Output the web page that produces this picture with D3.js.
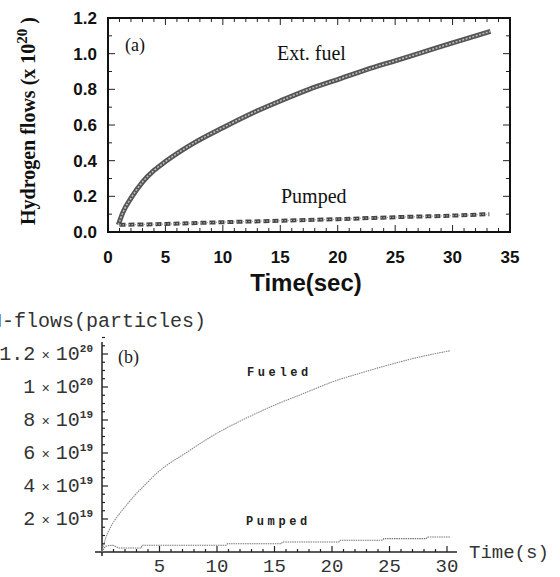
<!DOCTYPE html>
<html>
<head>
<meta charset="utf-8">
<script src="https://cdn.jsdelivr.net/npm/d3@7"></script>
<style>
  body { margin: 0; background: #fff; }
  svg { display: block; }
</style>
</head>
<body>
<div id="chart"></div>
<script>
// panel (a) data
var timeA = [0.9, 1.3, 2, 3, 4, 5, 7.5, 10, 12.5, 15, 17.5, 20, 22.5, 25, 27.5, 30, 33.3];
var extFuel = [0.04, 0.11, 0.19, 0.28, 0.345, 0.395, 0.5, 0.585, 0.665, 0.735, 0.8, 0.855, 0.91, 0.96, 1.01, 1.06, 1.125];
var timePumpedA = [1, 5, 10, 15, 20, 25, 30, 33.2];
var pumpedA = [0.04, 0.045, 0.055, 0.063, 0.072, 0.083, 0.092, 0.1];
var xTicksA = [0, 5, 10, 15, 20, 25, 30, 35];
var yTicksA = [0, 0.2, 0.4, 0.6, 0.8, 1.0, 1.2];

// panel (b) data
var timeB = [0, 0.3, 0.6, 0.9, 1.5, 2.2, 3, 3.5, 4.8, 7.5, 10, 12.5, 15, 17.5, 20, 22.5, 25, 27.5, 30.3];
var fueledB = [0, 8e18, 1.3e19, 1.7e19, 2.3e19, 2.9e19, 3.55e19, 3.9e19, 4.8e19, 6.1e19, 7.2e19, 8.1e19, 8.9e19, 9.6e19, 1.03e20, 1.085e20, 1.135e20, 1.18e20, 1.22e20];
var timePumpedB = [0, 0.3, 0.9, 1.5, 3.4, 3.5, 10.8, 10.9, 15.6, 15.7, 20.6, 20.7, 24.4, 24.5, 28.2, 28.3, 30.3];
var pumpedB = [0, 3.5e18, 4.2e18, 2.4e18, 2.4e18, 4.1e18, 4.1e18, 5.0e18, 5.0e18, 6.1e18, 6.1e18, 7.1e18, 7.1e18, 8.1e18, 8.1e18, 9.1e18, 9.1e18];
var xTicksB = [5, 10, 15, 20, 25, 30];
var yTicksB = [2e19, 4e19, 6e19, 8e19, 1e20, 1.2e20];
var yTickLabelsB = [["2", "19"], ["4", "19"], ["6", "19"], ["8", "19"], ["1", "20"], ["1.2", "20"]];

var svgWidth = 560;
var svgHeight = 577;

var svg = d3.select("#chart")
    .append("svg")
    .attr("width", svgWidth)
    .attr("height", svgHeight);

// ---------- panel (a) ----------
var xA = d3.scaleLinear().domain([0, 35]).range([108, 510]);
var yA = d3.scaleLinear().domain([0, 1.2]).range([232, 18]);

var gA = svg.append("g");

// inside ticks on all four sides
var minorX = d3.range(0, 36, 1);
var minorY = d3.range(0, 1.21, 0.1);
gA.selectAll(".xtick")
    .data(minorX)
    .enter()
    .append("g")
    .each(function(d) {
        var len = d % 5 === 0 ? 7 : 4;
        var g = d3.select(this);
        g.append("line").attr("x1", xA(d)).attr("x2", xA(d))
            .attr("y1", yA(0)).attr("y2", yA(0) - len);
        g.append("line").attr("x1", xA(d)).attr("x2", xA(d))
            .attr("y1", yA(1.2)).attr("y2", yA(1.2) + len);
    })
    .attr("stroke", "#222")
    .attr("stroke-width", 1);

gA.selectAll(".ytick")
    .data(minorY)
    .enter()
    .append("g")
    .each(function(d, i) {
        var len = i % 2 === 0 ? 7 : 4;
        var g = d3.select(this);
        g.append("line").attr("x1", xA(0)).attr("x2", xA(0) + len)
            .attr("y1", yA(d)).attr("y2", yA(d));
        g.append("line").attr("x1", xA(35)).attr("x2", xA(35) - len)
            .attr("y1", yA(d)).attr("y2", yA(d));
    })
    .attr("stroke", "#222")
    .attr("stroke-width", 1);

gA.append("rect")
    .attr("x", xA(0))
    .attr("y", yA(1.2))
    .attr("width", xA(35) - xA(0))
    .attr("height", yA(0) - yA(1.2))
    .attr("fill", "none")
    .attr("stroke", "#111")
    .attr("stroke-width", 2);

gA.selectAll(".xlab")
    .data(xTicksA)
    .enter()
    .append("text")
    .attr("x", d => xA(d))
    .attr("y", 263)
    .attr("text-anchor", "middle")
    .attr("font-family", "Liberation Sans, Arial, sans-serif")
    .attr("font-weight", "bold")
    .attr("font-size", 17)
    .attr("fill", "#111")
    .text(d => d);

gA.selectAll(".ylab")
    .data(yTicksA)
    .enter()
    .append("text")
    .attr("x", 97)
    .attr("y", d => yA(d) + 6)
    .attr("text-anchor", "end")
    .attr("font-family", "Liberation Sans, Arial, sans-serif")
    .attr("font-weight", "bold")
    .attr("font-size", 17)
    .attr("fill", "#111")
    .text(d => d.toFixed(1));

gA.append("text")
    .attr("x", 306)
    .attr("y", 291)
    .attr("text-anchor", "middle")
    .attr("font-family", "Liberation Sans, Arial, sans-serif")
    .attr("font-weight", "bold")
    .attr("font-size", 24)
    .attr("fill", "#111")
    .text("Time(sec)");

var yTitle = gA.append("text")
    .attr("transform", "translate(35, 121) rotate(-90)")
    .attr("text-anchor", "middle")
    .attr("font-family", "Liberation Serif, Times New Roman, serif")
    .attr("font-weight", "bold")
    .attr("font-size", 20)
    .attr("fill", "#111");
yTitle.append("tspan").text("Hydrogen flows (x 10");
yTitle.append("tspan").attr("dy", -8).attr("font-size", 15).text("20");
yTitle.append("tspan").attr("dy", 8).text(" )");

var lineA = d3.line()
    .x(d => xA(d[0]))
    .y(d => yA(d[1]))
    .curve(d3.curveMonotoneX);

var extData = timeA.map((t, i) => [t, extFuel[i]]);
var pumpData = timePumpedA.map((t, i) => [t, pumpedA[i]]);

gA.append("path")
    .attr("d", lineA(extData))
    .attr("fill", "none")
    .attr("stroke", "#555")
    .attr("stroke-width", 5);
gA.append("path")
    .attr("d", lineA(extData))
    .attr("fill", "none")
    .attr("stroke", "#bbb")
    .attr("stroke-width", 1.6)
    .attr("stroke-dasharray", "2,1.5");

gA.append("path")
    .attr("d", lineA(pumpData))
    .attr("fill", "none")
    .attr("stroke", "#444")
    .attr("stroke-width", 4)
    .attr("stroke-dasharray", "6,3");
gA.append("path")
    .attr("d", lineA(pumpData))
    .attr("fill", "none")
    .attr("stroke", "#aaa")
    .attr("stroke-width", 1.2)
    .attr("stroke-dasharray", "1.5,1.5");

gA.append("text")
    .attr("x", 125).attr("y", 51)
    .attr("font-family", "Liberation Serif, Times New Roman, serif")
    .attr("font-size", 18)
    .attr("fill", "#111")
    .text("(a)");
gA.append("text")
    .attr("x", 277).attr("y", 60)
    .attr("font-family", "Liberation Serif, Times New Roman, serif")
    .attr("font-size", 20)
    .attr("fill", "#111")
    .text("Ext. fuel");
gA.append("text")
    .attr("x", 281).attr("y", 203)
    .attr("font-family", "Liberation Serif, Times New Roman, serif")
    .attr("font-size", 20)
    .attr("fill", "#111")
    .text("Pumped");

// ---------- panel (b) ----------
var xB = d3.scaleLinear().domain([0, 30]).range([102, 447]);
var yB = d3.scaleLinear().domain([0, 1.2e20]).range([552, 354]);

var gB = svg.append("g");
var mono = "Liberation Mono, Courier New, monospace";

// axes lines
gB.append("line")
    .attr("x1", 95).attr("x2", 457)
    .attr("y1", yB(0)).attr("y2", yB(0))
    .attr("stroke", "#222").attr("stroke-width", 1.5);
gB.append("line")
    .attr("x1", xB(0)).attr("x2", xB(0))
    .attr("y1", 342).attr("y2", 556)
    .attr("stroke", "#222").attr("stroke-width", 1.5);

// x ticks (upward), every 1 with longer every 5
gB.selectAll(".bxt")
    .data(d3.range(1, 31, 1))
    .enter()
    .append("line")
    .attr("x1", d => xB(d)).attr("x2", d => xB(d))
    .attr("y1", yB(0))
    .attr("y2", d => yB(0) - (d % 5 === 0 ? 6 : 3))
    .attr("stroke", "#222").attr("stroke-width", 1.2);

// y ticks (rightward), every 5e18 with longer every 2e19
gB.selectAll(".byt")
    .data(d3.range(1, 27, 1))
    .enter()
    .append("line")
    .attr("x1", xB(0))
    .attr("x2", d => xB(0) + (d % 4 === 0 ? 6 : 3))
    .attr("y1", d => yB(d * 5e18)).attr("y2", d => yB(d * 5e18))
    .attr("stroke", "#222").attr("stroke-width", 1.2);

gB.selectAll(".bxl")
    .data(xTicksB)
    .enter()
    .append("text")
    .attr("x", d => xB(d))
    .attr("y", 572)
    .attr("text-anchor", "middle")
    .attr("font-family", mono)
    .attr("font-size", 19)
    .attr("fill", "#333")
    .text(d => d);

var yLab = gB.selectAll(".byl")
    .data(yTicksB)
    .enter()
    .append("text")
    .attr("x", 93)
    .attr("y", d => yB(d) + 6)
    .attr("text-anchor", "end")
    .attr("font-family", mono)
    .attr("font-size", 20)
    .attr("fill", "#333");
yLab.append("tspan").text((d, i) => yTickLabelsB[i][0]);
yLab.append("tspan").attr("dx", 6).attr("font-size", 14).text("\u00d7");
yLab.append("tspan").attr("dx", 6).text("10");
yLab.append("tspan").attr("dy", -8).attr("font-size", 11).attr("font-weight", "bold")
    .text((d, i) => yTickLabelsB[i][1]);

gB.append("text")
    .attr("x", -10).attr("y", 327)
    .attr("font-family", mono)
    .attr("font-size", 20)
    .attr("fill", "#333")
    .text("H-flows(particles)");

gB.append("text")
    .attr("x", 469).attr("y", 558)
    .attr("font-family", mono)
    .attr("font-size", 19)
    .attr("fill", "#333")
    .text("Time(s)");

gB.append("text")
    .attr("x", 118).attr("y", 363)
    .attr("font-family", "Liberation Serif, Times New Roman, serif")
    .attr("font-size", 18)
    .attr("fill", "#222")
    .text("(b)");

gB.append("text")
    .attr("x", 247).attr("y", 376)
    .attr("font-family", mono)
    .attr("font-weight", "bold")
    .attr("font-size", 12)
    .attr("letter-spacing", 3.6)
    .attr("fill", "#222")
    .text("Fueled");
gB.append("text")
    .attr("x", 246).attr("y", 525)
    .attr("font-family", mono)
    .attr("font-weight", "bold")
    .attr("font-size", 12)
    .attr("letter-spacing", 3.6)
    .attr("fill", "#222")
    .text("Pumped");

var lineB = d3.line()
    .x(d => xB(d[0]))
    .y(d => yB(d[1]));

gB.append("path")
    .attr("d", lineB.curve(d3.curveMonotoneX)(timeB.map((t, i) => [t, fueledB[i]])))
    .attr("fill", "none")
    .attr("stroke", "#888")
    .attr("stroke-width", 1.1)
    .attr("stroke-dasharray", "1.5,0.8");

gB.append("path")
    .attr("d", lineB.curve(d3.curveLinear)(timePumpedB.map((t, i) => [t, pumpedB[i]])))
    .attr("fill", "none")
    .attr("stroke", "#777")
    .attr("stroke-width", 1.1)
    .attr("stroke-dasharray", "1.5,0.8");
</script>
</body>
</html>
